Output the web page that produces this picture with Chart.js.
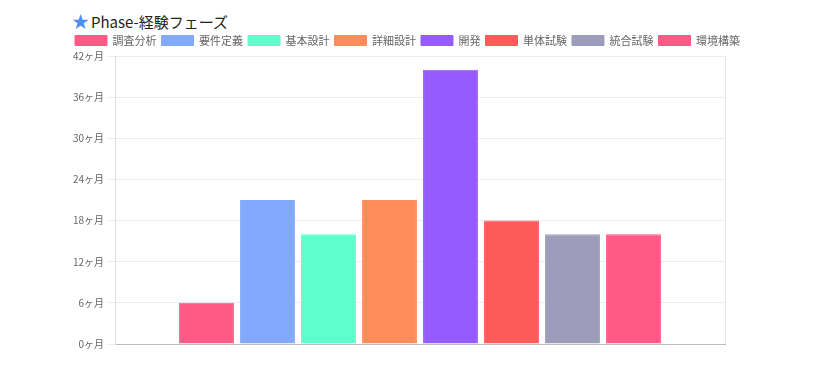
<!DOCTYPE html>
<html>
<head>
<meta charset="utf-8">
<script src="https://cdn.jsdelivr.net/npm/chart.js@4"></script>
<style>
  body { margin: 0; background: #fff; font-family: "Noto Sans CJK JP", sans-serif; }
  .title { position: absolute; left: 72px; top: 8px; font-size: 15px; color: #222; }
  .title .star { color: #4f8ef0; font-size: 17px; margin-right: 2px; }
  .wrap { position: absolute; left: 35px; top: 30px; width: 745px; height: 323px; }
</style>
</head>
<body>
<div class="title"><span class="star">★</span>Phase-経験フェーズ</div>
<div class="wrap"><canvas id="phaseChart"></canvas></div>
<script>
const phases = ["調査分析", "要件定義", "基本設計", "詳細設計", "開発", "単体試験", "統合試験", "環境構築"];
const months = [6, 21, 16, 21, 40, 18, 16, 16];
const colors = ["#ff5a85", "#82a9fb", "#5effcc", "#ff8c5a", "#975bfd", "#ff5a5a", "#9d9dbb", "#ff5a85"];
const yTicks = { min: 0, max: 42, step: 6 };

document.addEventListener("DOMContentLoaded", () => {
  const ctx = document.getElementById("phaseChart").getContext("2d");

  const datasets = phases.map((name, i) => ({
    label: name,
    data: [months[i]],
    backgroundColor: colors[i],
    borderColor: colors[i],
    borderWidth: 1,
  }));

  new Chart(ctx, {
    type: "bar",
    data: { labels: [""], datasets: datasets },
    options: {
      responsive: true,
      maintainAspectRatio: false,
      animation: false,
      layout: { padding: 0 },
      plugins: {
        legend: {
          labels: {
            boxWidth: 32,
            boxHeight: 10,
            padding: 5,
            color: "#666",
            font: { family: "Noto Sans CJK JP", size: 11 },
          },
        },
        tooltip: { enabled: false },
      },
      scales: {
        x: {
          ticks: { display: false },
          grid: { color: "#e8e8e8", drawTicks: false },
          border: { color: "#bbb" },
        },
        y: {
          min: yTicks.min,
          max: yTicks.max,
          afterFit: (s) => { s.width = 80; },
          ticks: {
            stepSize: yTicks.step,
            color: "#666",
            font: { family: "Noto Sans CJK JP", size: 10 },
            callback: (v) => v + "ヶ月",
          },
          grid: { color: "#ececec" },
          border: { color: "#ddd" },
        },
        // empty right axis, only keeps space on the right of the plot
        yRight: {
          position: "right",
          afterFit: (s) => { s.width = 55; },
          ticks: { display: false },
          grid: { display: false },
          border: { display: false },
        },
      },
    },
  });
});
</script>
</body>
</html>
